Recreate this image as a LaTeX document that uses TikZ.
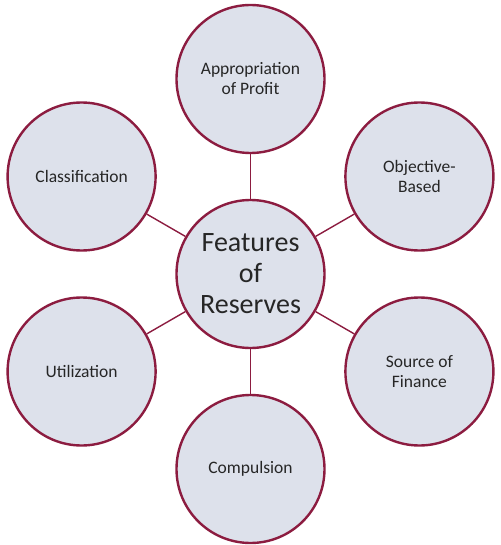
\documentclass[tikz,border=0pt]{standalone}
\usepackage{fontspec}
\setmainfont{Carlito}
\definecolor{rim}{RGB}{140,28,64}
\definecolor{disc}{RGB}{221,225,235}
\begin{document}
\begin{tikzpicture}[x=1pt,y=-1pt,
  bubble/.style={circle,draw=rim,fill=disc,line width=2.4pt,minimum size=148pt,inner sep=0pt,align=center,font=\fontsize{17.5}{20}\selectfont,text=black!85},
  hub/.style={bubble,font=\fontsize{28}{31}\selectfont},
  link/.style={draw=rim,line width=1.4pt}]
\useasboundingbox (0,0) rectangle (500,545);
\node[hub] (c) at (250.5,274) {Features\\of\\Reserves};
\node[bubble] (t) at (250.5,79) {Appropriation\\of Profit};
\node[bubble] (tr) at (419.4,176.5) {Objective-\\Based};
\node[bubble] (br) at (419.4,371.5) {Source of\\Finance};
\node[bubble] (b) at (250.5,469) {Compulsion};
\node[bubble] (bl) at (81.6,371.5) {Utilization};
\node[bubble] (tl) at (81.6,176.5) {Classification};
\foreach \n in {t,tr,br,b,bl,tl} \draw[link] (c) -- (\n);
\end{tikzpicture}
\end{document}
